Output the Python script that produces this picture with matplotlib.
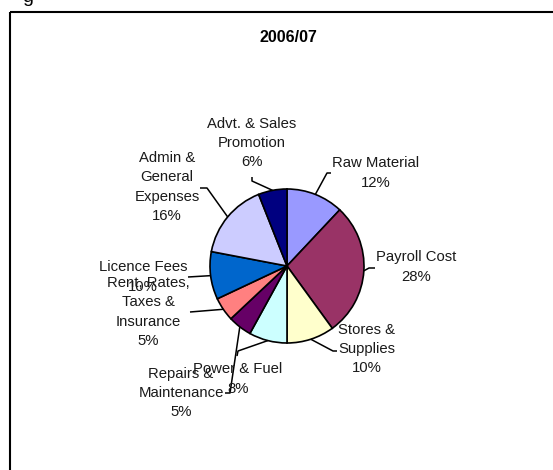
import numpy as np
import matplotlib.pyplot as plt
from matplotlib.patches import Rectangle

plt.rcParams['font.family'] = ['Liberation Sans', 'DejaVu Sans']

# data
labels = ['Raw Material', 'Payroll Cost', 'Stores &\nSupplies', 'Power & Fuel',
          'Repairs &\nMaintenance', 'Rent, Rates,\nTaxes &\nInsurance',
          'Licence Fees', 'Admin &\nGeneral\nExpenses', 'Advt. & Sales\nPromotion']
shares = [12, 28, 10, 8, 5, 5, 10, 16, 6]
colors = ['#9999FF', '#993366', '#FFFFCC', '#CCFFFF', '#660066',
          '#FF8080', '#0066CC', '#CCCCFF', '#000080']
title = '2006/07'

# layout (pixel coords, y down): label centre, leader path after the wedge point
label_pos = [(376, 173), (416, 267), (367, 349), (238, 379), (181, 393),
             (148, 312), (143, 277), (167, 187), (252, 143)]
leaders = [[(327, 173), (331, 173)],
           [(369, 268), (375, 268)],
           [(333, 351), (337, 351)],
           [(238, 351), (237, 356)],
           [(230, 393), (225, 393)],
           [(190, 312)],
           [(188, 277)],
           [(207, 188), (200, 188)],
           [(252, 181), (252, 177)]]
cx, cy, r = 287, 266, 77

fig = plt.figure(figsize=(5.53, 4.70), dpi=100)
ax = fig.add_axes([0, 0, 1, 1])

ax.pie(shares, colors=colors, startangle=-90, counterclock=True,
       center=(cx, cy), radius=r,
       wedgeprops=dict(edgecolor='black', linewidth=1.2))
ax.set_xlim(0, 553)
ax.set_ylim(470, 0)
ax.set_aspect('equal')
ax.axis('off')

cum = np.cumsum([0] + shares[:-1])
for i, (lab, v) in enumerate(zip(labels, shares)):
    th = np.deg2rad(-90 + 360 * (cum[i] + v / 2) / sum(shares))
    pts = [(cx + r * np.cos(th), cy + r * np.sin(th))] + leaders[i]
    xs, ys = zip(*pts)
    ax.plot(xs, ys, color='black', lw=1.1, solid_capstyle='butt')
    tx, ty = label_pos[i]
    ax.text(tx, ty, f'{lab}\n{v}%', ha='center', va='center', fontsize=10.7,
            linespacing=1.47, color='#1a1a1a')

ax.text(288, 37, title, ha='center', va='center', fontsize=11.5, fontweight='bold')
ax.add_patch(Rectangle((10, 12), 600, 500, fill=False, edgecolor='black', lw=1.5))
ax.text(28, 2, 'g', ha='center', va='baseline', fontsize=14)

fig.savefig('out.png', dpi=100)
